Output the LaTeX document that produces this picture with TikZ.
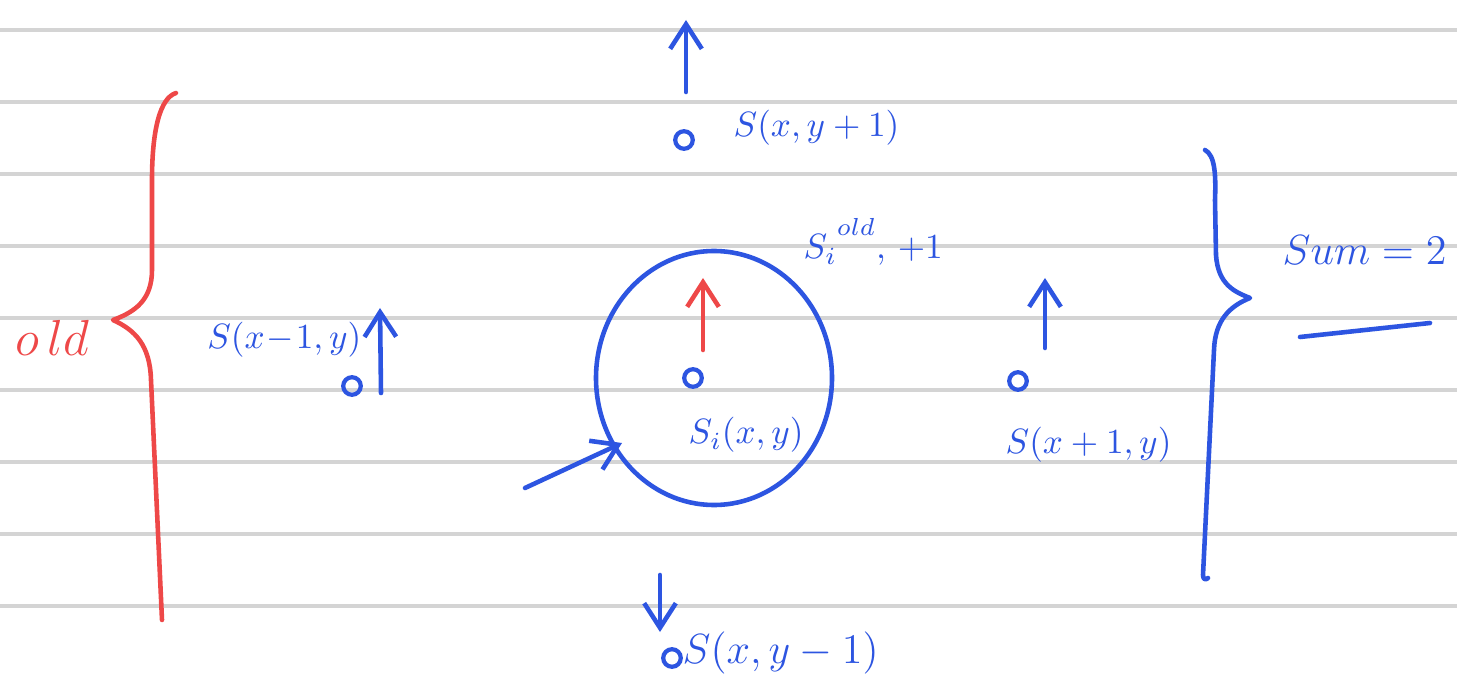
\documentclass[tikz,border=0pt]{standalone}
\usepackage{amsmath}
\usepackage{xcolor}
\usetikzlibrary{arrows.meta,calc}
\definecolor{penblue}{RGB}{45,85,225}
\definecolor{penred}{RGB}{238,72,72}
\definecolor{ruling}{RGB}{212,212,212}
\tikzset{
  ink/.style={penblue, line width=1.3pt, line cap=round, line join=round},
  redink/.style={penred, line width=1.3pt, line cap=round, line join=round},
  pen/.style={-{Straight Barb[length=7pt,width=9pt]}},
  site/.style={circle, draw=penblue, line width=1.2pt, inner sep=0pt, minimum size=5pt},
  note/.style={penblue, font=\normalsize, inner sep=0pt, anchor=west}
}

\begin{document}
\begin{tikzpicture}[x=0.01cm, y=-0.01cm]
\useasboundingbox (0,0) rectangle (1457,679);
\fill[white] (0,0) rectangle (1457,679);
% ruled paper
\foreach \ly in {30,102,...,606} {
  \draw[ruling, line width=1pt] (0,\ly) -- (1457,\ly);
}
% red brace
\draw[redink] (176,93) .. controls (160,98) and (152,130) .. (152,180) -- (152,270)
  .. controls (152,300) and (135,312) .. (113,320)
  .. controls (135,330) and (150,345) .. (151,380) -- (162,620);
\node[penred, font=\Large, inner sep=1pt] (old) at (52,338) {$o\,ld$}; %label
% blue brace
\draw[ink] (1205,150) .. controls (1215,155) and (1216,175) .. (1215,200) -- (1216,255)
  .. controls (1218,285) and (1235,292) .. (1250,298)
  .. controls (1230,306) and (1215,320) .. (1214,350) -- (1203,575)
  .. controls (1203,580) and (1206,580) .. (1208,578);
\node[note, font=\large] (sum) at (1282,250) {$Sum = 2$}; %label
\coordinate (sumL) at (1300,337);
\coordinate (sumR) at (1430,323);
\draw[ink] (sumL) -- (sumR);
% centre site and its circle
\draw[ink] (714,378) ellipse (118 and 127);
\node[site] (si) at (693,378) {};
\node[note] (silab) at (688,435) {$S_i(x,y)$}; %label
\node[note] (spin) at (803,242) {$S_i{}^{\raisebox{3pt}{$\scriptstyle old$}}$, $+1$}; %label
\coordinate (redA) at (703,350);
\coordinate (redB) at (703,278);
\draw[redink,pen] (redA) -- (redB);
\coordinate (inA) at (525,488);
\coordinate (inB) at (622,443);
\draw[ink,pen] (inA) -- (inB);
% top neighbour
\node[site] (up) at (684,140) {};
\node[note] (uplab) at (733,128) {$S(x,y+1)$}; %label
\coordinate (upA) at (686,92);
\coordinate (upB) at (686,20);
\draw[ink,pen] (upA) -- (upB);
% left neighbour
\node[site] (lf) at (352,386) {};
\node[note, anchor=east] (lflab) at (362,340) {$S(x\!-\!1,y)$}; %label
\coordinate (lfA) at (381,393);
\coordinate (lfB) at (380,308);
\draw[ink,pen] (lfA) -- (lfB);
% right neighbour
\node[site] (rt) at (1018,381) {};
\node[note] (rtlab) at (1005,445) {$S(x+1,y)$}; %label
\coordinate (rtA) at (1045,348);
\coordinate (rtB) at (1045,278);
\draw[ink,pen] (rtA) -- (rtB);
% bottom neighbour
\node[site] (dn) at (672,658) {};
\node[note, font=\large] (dnlab) at (682,653) {$S(x,y-1)$}; %label
\coordinate (dnA) at (660,575);
\coordinate (dnB) at (660,632);
\draw[ink,pen] (dnA) -- (dnB);
\end{tikzpicture}
\end{document}
